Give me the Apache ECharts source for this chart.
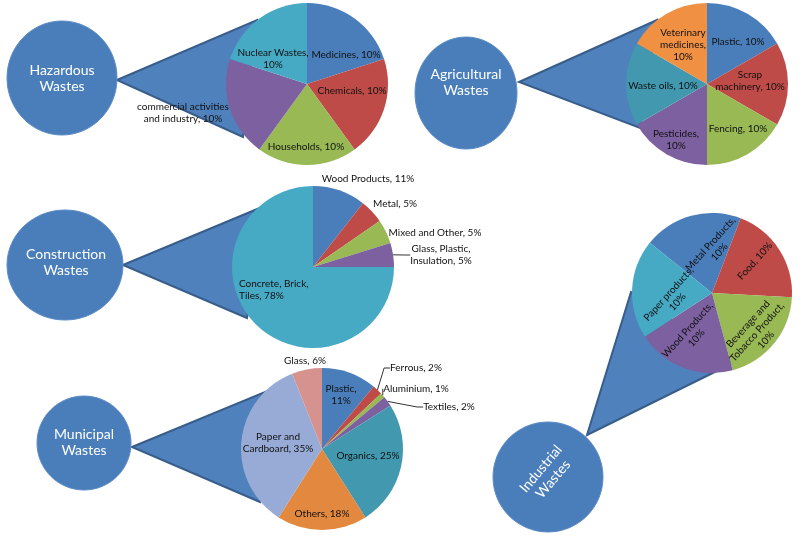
<!DOCTYPE html>
<html>
<head>
<meta charset="utf-8">
<script src="https://cdn.jsdelivr.net/npm/echarts@6/dist/echarts.min.js"></script>
<style>
html,body{margin:0;padding:0;background:#fff;}
#chart{width:803px;height:538px;}
</style>
</head>
<body>
<div id="chart"></div>
<script>
// ---- data ----
const hazardCats = ['Medicines', 'Chemicals', 'Households', 'commercial activities and industry', 'Nuclear Wastes'];
const hazardVals = [10, 10, 10, 10, 10];
const agriCats = ['Plastic', 'Scrap machinery', 'Fencing', 'Pesticides', 'Waste oils', 'Veterinary medicines'];
const agriVals = [10, 10, 10, 10, 10, 10];
const constrCats = ['Wood Products', 'Metal', 'Mixed and Other', 'Glass, Plastic, Insulation', 'Concrete, Brick, Tiles'];
const constrVals = [11, 5, 5, 5, 78];
const muniCats = ['Plastic', 'Ferrous', 'Aluminium', 'Textiles', 'Organics', 'Others', 'Paper and Cardboard', 'Glass'];
const muniVals = [11, 2, 1, 2, 25, 18, 35, 6];
const indCats = ['Metal Products', 'Food', 'Beverage and Tobacco Product', 'Wood Products', 'Paper products'];
const indVals = [10, 10, 10, 10, 10];
const groupTitles = ['Hazardous Wastes', 'Agricultural Wastes', 'Construction Wastes', 'Municipal Wastes', 'Industrial Wastes'];

// ---- styling / layout ----
const C = {
  blue: '#4A7EBB', red: '#BE4B48', green: '#98B954', purple: '#7D60A0',
  cyan: '#46AAC5', teal: '#4198AF', orange: '#F09043', orange2: '#E2883F',
  lilac: '#97ABD6', pink: '#D6928F'
};
const FONT = 'Lato, "Open Sans", sans-serif';

// label layout: [dx, dy, breaks after word n, align]
const panels = [
  { cats: hazardCats, vals: hazardVals, center: [307, 84], r: 81, start: 90, rot: 0,
    colors: [C.blue, C.red, C.green, C.purple, C.cyan],
    ell: [62, 78, 55, 57], txt: [62, 78, 0],
    tri: [[117, 80], [257, 20], [243, 137]],
    labels: [[39, -29, []], [45, 7, []], [-1, 63, []], [-124, 29, [2]], [-34, -25, [2]]],
    lines: [] },
  { cats: agriCats, vals: agriVals, center: [707, 84], r: 81, start: 90, rot: 0,
    colors: [C.blue, C.red, C.green, C.purple, C.teal, C.orange],
    ell: [466, 93, 51, 56], txt: [466, 82, 0],
    tri: [[519, 82], [657, 20], [640, 128]],
    labels: [[31, -42, []], [43, -3, [1]], [31, 45, []], [-31, 56, [1]], [-44, 2, []], [-24, -39, [1, 2]]],
    lines: [] },
  { cats: constrCats, vals: constrVals, center: [313, 267], r: 81, start: 90, rot: 0,
    colors: [C.blue, C.red, C.green, C.purple, C.cyan],
    ell: [65, 265, 58, 55], txt: [66, 262, 0],
    tri: [[123, 265], [267, 205], [247, 318]],
    labels: [[55, -88, []], [82, -63, []], [122, -34, []], [128, -12, [2]], [-74, 23, [2], 'left']],
    lines: [3] },
  { cats: muniCats, vals: muniVals, center: [322, 449], r: 81, start: 90, rot: 0,
    colors: [C.blue, C.red, C.green, C.purple, C.teal, C.orange2, C.lilac, C.pink],
    ell: [84, 443, 47, 47], txt: [84, 442, 0],
    tri: [[132, 447], [277, 387], [260, 502]],
    labels: [[19, -54, [1]], [94, -81, []], [94, -60, []], [127, -42, []], [46, 7, []], [0, 65, []], [-44, -6, [2]], [-17, -88, []]],
    lines: [1, 2, 3] },
  { cats: indCats, vals: indVals, center: [712, 293], r: 80, start: 141, rot: 48,
    colors: [C.blue, C.red, C.green, C.purple, C.cyan],
    ell: [548, 477, 55, 55], txt: [547, 474, 50],
    tri: [[587, 435], [631, 292], [735, 362]],
    labels: [[3, -45, [2]], [43, -32, []], [45, 39, [2, 4]], [-20, 41, [2]], [-39, 5, [2]]],
    lines: [] }
];

function breakText(s, brs) {
  const w = s.split(' ');
  let out = '';
  w.forEach((t, i) => {
    out += t;
    if (i < w.length - 1) out += (brs.indexOf(i + 1) >= 0 ? '\n' : ' ');
  });
  return out;
}

const graphics = [];
const series = [];
panels.forEach((p, pi) => {
  graphics.push({
    type: 'polygon', z: 0,
    shape: { points: p.tri },
    style: { fill: '#4F81BD', stroke: '#385D8A', lineWidth: 2 }
  });
  graphics.push({
    type: 'ellipse', z: 1,
    shape: { cx: p.ell[0], cy: p.ell[1], rx: p.ell[2], ry: p.ell[3] },
    style: { fill: C.blue, stroke: '#5B8BC6', lineWidth: 1 }
  });
  const parts = groupTitles[pi].split(' ');
  graphics.push({
    type: 'text', z: 2,
    x: p.txt[0], y: p.txt[1], rotation: p.txt[2] * Math.PI / 180,
    style: {
      text: parts[0] + '\n' + parts.slice(1).join(' '),
      fill: '#ffffff', font: '14px ' + FONT, lineHeight: 16,
      textAlign: 'center', align: 'center', textVerticalAlign: 'middle', verticalAlign: 'middle'
    }
  });
  series.push({
    type: 'pie',
    center: p.center,
    radius: p.r,
    startAngle: p.start,
    clockwise: true,
    avoidLabelOverlap: false,
    animation: false,
    silent: true,
    emphasis: { disabled: true },
    itemStyle: { borderWidth: 0 },
    label: {
      show: true, position: 'inside', color: '#111', fontFamily: FONT, fontSize: 10, lineHeight: 12,
      formatter: (d) => breakText(d.name + ', ' + d.value + '%', p.labels[d.dataIndex][2])
    },
    labelLine: { show: false, length: 6, length2: 6, lineStyle: { color: '#333', width: 1 } },
    labelLayout: (prm) => {
      const L = p.labels[prm.dataIndex];
      return {
        x: p.center[0] + L[0], y: p.center[1] + L[1],
        align: L[3] || 'center', verticalAlign: 'middle',
        rotate: p.rot
      };
    },
    data: p.cats.map((n, i) => {
      const item = { name: n, value: p.vals[i], itemStyle: { color: p.colors[i] } };
      if (p.lines.indexOf(i) >= 0) {
        item.label = { position: 'outside' };
        item.labelLine = { show: true };
      }
      return item;
    })
  });
});

const chart = echarts.init(document.getElementById('chart'), null, { renderer: 'canvas' });
chart.setOption({
  backgroundColor: '#ffffff',
  animation: false,
  graphic: { elements: graphics },
  series: series
});
</script>
</body>
</html>
